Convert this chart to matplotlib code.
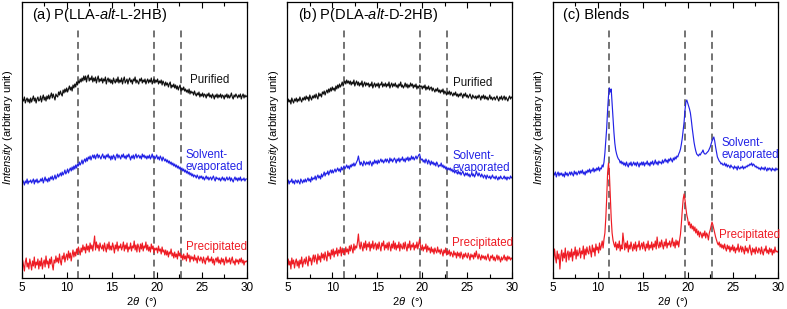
import numpy as np
import matplotlib
matplotlib.use("Agg")
import matplotlib.pyplot as plt
from matplotlib.ticker import MultipleLocator

plt.rcParams['font.family'] = ['Liberation Sans', 'DejaVu Sans']
plt.rcParams['mathtext.fontset'] = 'custom'
plt.rcParams['mathtext.it'] = 'Liberation Sans:italic'
plt.rcParams['mathtext.rm'] = 'Liberation Sans'

# 2theta grid (deg), step 0.1 (each row below = 1 degree)
two_theta = np.round(np.arange(5.0, 30.0001, 0.1), 1)

# ---- Panel (a) P(LLA-alt-L-2HB) ----
a_purified = [
    174, 179, 177, 181, 175, 178, 180, 176, 179, 175,
    180, 176, 179, 182, 177, 180, 175, 179, 181, 177,
    178, 182, 176, 180, 183, 178, 181, 177, 182, 179,
    183, 179, 182, 185, 180, 184, 181, 178, 184, 182,
    181, 186, 183, 187, 184, 182, 188, 185, 189, 186,
    190, 186, 189, 192, 188, 191, 187, 193, 190, 194,
    191, 196, 193, 197, 195, 199, 196, 200, 197, 202,
    198, 202, 196, 201, 203, 197, 200, 198, 202, 196,
    200, 197, 201, 195, 199, 202, 196, 199, 197, 200,
    195, 199, 197, 201, 194, 198, 200, 196, 199, 195,
    198, 194, 200, 197, 195, 199, 196, 201, 195, 198,
    196, 200, 194, 198, 201, 195, 197, 199, 194, 198,
    200, 196, 198, 194, 199, 197, 201, 195, 198, 196,
    194, 199, 197, 200, 195, 198, 196, 199, 194, 197,
    199, 195, 198, 196, 200, 194, 197, 199, 195, 198,
    196, 199, 194, 197, 195, 198, 193, 197, 195, 192,
    196, 193, 195, 191, 194, 196, 190, 193, 191, 194,
    190, 193, 189, 192, 188, 191, 193, 187, 190, 188,
    191, 187, 189, 186, 188, 185, 189, 184, 187, 185,
    186, 183, 187, 184, 182, 185, 183, 186, 181, 184,
    182, 185, 181, 184, 183, 180, 184, 182, 185, 181,
    183, 180, 184, 182, 179, 183, 181, 184, 180, 183,
    181, 184, 180, 183, 182, 179, 183, 181, 184, 180,
    183, 180, 182, 185, 181, 179, 183, 181, 184, 182,
    180, 183, 181, 184, 179, 182, 184, 180, 183, 181,
    182]
a_solvent = [
    94, 98, 96, 93, 97, 95, 99, 94, 97, 96,
    98, 95, 97, 99, 94, 98, 96, 99, 95, 97,
    96, 99, 97, 100, 95, 98, 101, 97, 99, 96,
    100, 97, 101, 99, 102, 98, 100, 103, 99, 101,
    104, 101, 103, 105, 102, 106, 103, 105, 108, 104,
    106, 109, 105, 108, 110, 107, 111, 108, 112, 109,
    113, 110, 114, 112, 116, 113, 115, 118, 114, 117,
    119, 116, 120, 117, 121, 119, 122, 118, 121, 123,
    120, 123, 119, 122, 124, 120, 123, 121, 119, 122,
    124, 120, 122, 119, 123, 121, 124, 120, 122, 118,
    122, 119, 123, 121, 118, 122, 124, 120, 123, 121,
    119, 123, 121, 124, 120, 122, 119, 123, 121, 124,
    121, 118, 122, 120, 123, 119, 122, 124, 120, 122,
    123, 120, 122, 119, 124, 121, 123, 120, 122, 119,
    122, 120, 123, 119, 121, 124, 120, 122, 119, 121,
    123, 119, 121, 118, 122, 120, 117, 121, 119, 117,
    119, 116, 118, 115, 117, 114, 116, 113, 115, 112,
    114, 111, 113, 110, 112, 109, 111, 108, 110, 107,
    109, 106, 108, 105, 107, 104, 106, 103, 105, 102,
    104, 101, 103, 102, 100, 103, 101, 99, 102, 100,
    102, 99, 101, 98, 100, 102, 99, 101, 98, 100,
    101, 98, 100, 102, 99, 97, 101, 99, 100, 98,
    100, 97, 99, 101, 98, 100, 97, 99, 101, 98,
    99, 101, 97, 100, 98, 96, 99, 101, 98, 100,
    97, 100, 98, 101, 97, 99, 98, 100, 97, 99,
    99]
a_precip = [
    10, 18, 13, 7, 16, 20, 11, 15, 9, 19,
    14, 8, 17, 12, 21, 10, 16, 13, 19, 9,
    17, 12, 20, 9, 15, 18, 11, 22, 14, 17,
    10, 19, 14, 21, 13, 8, 18, 15, 22, 16,
    20, 15, 24, 17, 13, 22, 19, 25, 16, 21,
    24, 18, 27, 20, 25, 17, 23, 28, 21, 26,
    22, 29, 24, 31, 27, 23, 30, 26, 33, 28,
    31, 25, 34, 28, 32, 26, 35, 29, 33, 27,
    34, 42, 28, 36, 30, 33, 27, 35, 31, 29,
    33, 27, 35, 30, 26, 34, 29, 36, 28, 32,
    28, 35, 31, 25, 33, 29, 36, 27, 32, 30,
    34, 28, 31, 36, 27, 33, 29, 35, 26, 31,
    29, 35, 27, 32, 30, 37, 28, 33, 26, 34,
    31, 26, 34, 29, 35, 27, 32, 30, 36, 28,
    33, 27, 31, 26, 34, 29, 32, 25, 30, 28,
    30, 25, 32, 27, 29, 24, 31, 26, 28, 23,
    28, 23, 27, 21, 26, 24, 29, 22, 25, 20,
    26, 21, 24, 19, 27, 22, 25, 20, 23, 18,
    24, 19, 22, 17, 25, 20, 23, 16, 22, 19,
    21, 17, 23, 18, 20, 15, 22, 19, 17, 21,
    19, 15, 21, 17, 14, 20, 18, 22, 16, 19,
    17, 21, 15, 19, 13, 18, 20, 16, 21, 15,
    18, 14, 20, 16, 19, 13, 17, 21, 15, 18,
    16, 20, 14, 18, 21, 15, 17, 13, 19, 16,
    18, 14, 19, 16, 20, 15, 18, 13, 17, 16,
    17]

# ---- Panel (b) P(DLA-alt-D-2HB) ----
b_purified = [
    175, 179, 176, 178, 174, 180, 177, 175, 179, 177,
    180, 176, 179, 177, 181, 178, 176, 180, 178, 181,
    178, 182, 179, 181, 177, 183, 180, 178, 182, 180,
    183, 180, 184, 181, 179, 185, 182, 184, 181, 186,
    184, 187, 183, 186, 188, 185, 189, 186, 190, 187,
    191, 188, 190, 187, 192, 189, 193, 190, 194, 191,
    193, 196, 192, 195, 197, 194, 198, 195, 197, 194,
    197, 193, 196, 194, 198, 192, 195, 197, 193, 196,
    192, 195, 193, 197, 191, 194, 196, 192, 195, 193,
    195, 191, 194, 192, 196, 190, 193, 195, 191, 194,
    192, 195, 190, 194, 193, 196, 191, 194, 192, 195,
    191, 194, 192, 196, 190, 193, 195, 191, 194, 192,
    195, 191, 193, 190, 194, 192, 196, 191, 193, 190,
    192, 195, 191, 194, 190, 193, 191, 195, 192, 194,
    190, 193, 191, 194, 189, 192, 190, 193, 191, 192,
    189, 192, 190, 193, 188, 191, 189, 192, 188, 190,
    191, 187, 190, 188, 186, 189, 187, 190, 186, 188,
    185, 188, 186, 189, 184, 187, 185, 183, 186, 184,
    187, 183, 186, 184, 182, 185, 183, 186, 182, 184,
    181, 184, 182, 185, 183, 180, 184, 182, 185, 181,
    183, 180, 182, 184, 181, 179, 183, 181, 180, 182,
    179, 182, 180, 183, 181, 178, 182, 180, 183, 179,
    182, 179, 181, 178, 180, 183, 179, 181, 178, 180,
    181, 178, 180, 182, 179, 177, 181, 179, 182, 178,
    180, 182, 178, 181, 179, 177, 180, 182, 179, 181,
    180]
b_solvent = [
    95, 98, 94, 97, 96, 99, 95, 97, 94, 98,
    97, 95, 98, 96, 94, 99, 97, 95, 98, 96,
    99, 96, 98, 100, 97, 99, 96, 101, 98, 100,
    99, 102, 98, 101, 103, 100, 102, 99, 104, 101,
    103, 106, 102, 105, 104, 107, 103, 106, 108, 105,
    108, 105, 107, 109, 106, 108, 110, 107, 109, 106,
    111, 108, 110, 112, 109, 111, 113, 110, 112, 109,
    113, 111, 114, 112, 115, 112, 114, 116, 118, 122,
    117, 113, 116, 114, 112, 117, 115, 113, 116, 114,
    116, 113, 117, 115, 112, 116, 114, 118, 115, 117,
    114, 118, 115, 117, 119, 116, 118, 115, 117, 119,
    116, 119, 117, 115, 120, 117, 119, 116, 118, 120,
    118, 115, 119, 117, 120, 116, 119, 118, 121, 117,
    119, 116, 120, 118, 121, 117, 120, 118, 122, 119,
    121, 118, 120, 122, 119, 121, 123, 124, 120, 118,
    119, 116, 118, 115, 119, 117, 114, 118, 116, 113,
    117, 114, 116, 113, 115, 112, 116, 114, 111, 113,
    112, 115, 111, 113, 110, 112, 109, 111, 108, 110,
    108, 110, 107, 109, 106, 108, 105, 107, 106, 104,
    107, 104, 106, 103, 105, 107, 104, 102, 105, 103,
    105, 102, 104, 101, 103, 105, 102, 104, 101, 103,
    107, 104, 102, 105, 103, 101, 104, 102, 100, 103,
    102, 99, 103, 101, 100, 102, 99, 101, 103, 100,
    101, 99, 102, 100, 98, 101, 99, 102, 100, 99,
    100, 102, 99, 101, 98, 101, 100, 99, 102, 100,
    101]
b_precip = [
    11, 19, 13, 17, 9, 20, 14, 18, 10, 16,
    19, 12, 17, 10, 18, 14, 21, 11, 16, 19,
    14, 21, 16, 12, 22, 17, 20, 13, 19, 23,
    16, 23, 19, 14, 24, 18, 22, 16, 25, 20,
    24, 18, 26, 21, 17, 27, 22, 25, 19, 28,
    23, 29, 21, 27, 24, 30, 22, 28, 25, 31,
    22, 30, 25, 28, 23, 31, 26, 29, 24, 32,
    27, 33, 29, 25, 34, 28, 32, 30, 36, 44,
    33, 29, 36, 31, 27, 35, 30, 37, 28, 34,
    31, 36, 27, 34, 30, 37, 29, 33, 35, 28,
    34, 29, 36, 31, 27, 35, 32, 37, 28, 33,
    30, 35, 28, 36, 32, 27, 34, 30, 37, 29,
    35, 28, 33, 30, 36, 27, 34, 31, 29, 35,
    29, 36, 31, 27, 34, 30, 37, 28, 33, 31,
    35, 28, 33, 30, 36, 29, 34, 39, 31, 28,
    33, 27, 31, 29, 34, 26, 32, 28, 30, 25,
    31, 26, 29, 24, 30, 27, 25, 31, 26, 28,
    24, 29, 26, 22, 28, 25, 30, 23, 27, 24,
    28, 22, 26, 24, 21, 27, 23, 25, 20, 26,
    22, 25, 20, 26, 23, 19, 24, 21, 25, 22,
    20, 25, 22, 18, 24, 21, 23, 19, 25, 21,
    27, 22, 19, 24, 21, 18, 23, 20, 22, 19,
    22, 18, 21, 24, 19, 17, 22, 20, 23, 18,
    21, 17, 20, 23, 18, 22, 19, 16, 21, 18,
    20, 23, 18, 21, 17, 22, 19, 21, 18, 20,
    19]

# ---- Panel (c) Blends ----
c_solvent = [
    102, 105, 103, 106, 101, 104, 106, 102, 105, 103,
    105, 102, 104, 101, 106, 103, 105, 102, 104, 106,
    103, 106, 104, 102, 107, 104, 106, 103, 105, 107,
    104, 107, 105, 108, 104, 106, 103, 107, 105, 108,
    106, 109, 105, 108, 107, 110, 106, 109, 107, 110,
    108, 111, 107, 110, 109, 113, 111, 116, 125, 137,
    150, 168, 182, 190, 186, 189, 175, 160, 146, 135,
    128, 124, 121, 119, 118, 115, 117, 114, 116, 113,
    115, 112, 116, 113, 111, 115, 113, 116, 112, 114,
    116, 113, 115, 112, 116, 114, 111, 115, 113, 116,
    113, 116, 112, 115, 114, 117, 113, 115, 112, 116,
    114, 117, 113, 115, 118, 114, 116, 113, 117, 115,
    116, 114, 118, 115, 117, 119, 116, 118, 115, 119,
    117, 120, 118, 116, 120, 118, 121, 119, 122, 121,
    124, 126, 129, 134, 140, 148, 156, 168, 176, 178,
    175, 172, 169, 165, 158, 150, 143, 136, 131, 127,
    124, 123, 122, 124, 123, 125, 126, 128, 125, 124,
    124, 125, 126, 127, 129, 131, 134, 137, 139, 141,
    137, 131, 126, 121, 119, 117, 116, 114, 115, 113,
    113, 115, 112, 114, 111, 113, 112, 110, 113, 111,
    111, 109, 112, 110, 111, 108, 112, 110, 109, 111,
    110, 112, 109, 111, 110, 112, 111, 113, 112, 114,
    113, 115, 112, 114, 113, 111, 112, 110, 111, 109,
    110, 108, 111, 109, 110, 108, 111, 109, 107, 110,
    108, 110, 109, 107, 110, 108, 109, 107, 110, 108,
    109]
c_precip = [
    26, 18, 29, 21, 15, 27, 19, 24, 9, 22,
    28, 17, 25, 20, 30, 16, 24, 27, 18, 26,
    21, 29, 17, 26, 23, 31, 19, 28, 22, 25,
    30, 20, 27, 24, 32, 19, 29, 23, 31, 26,
    24, 32, 27, 21, 33, 26, 30, 22, 34, 28,
    31, 25, 35, 28, 32, 37, 30, 39, 45, 60,
    80, 105, 115, 104, 82, 60, 45, 38, 34, 31,
    36, 28, 34, 30, 37, 27, 33, 29, 45, 36,
    28, 35, 30, 37, 26, 33, 29, 36, 31, 27,
    34, 29, 36, 27, 33, 31, 37, 28, 32, 35,
    29, 36, 31, 27, 34, 30, 37, 28, 33, 30,
    36, 28, 34, 31, 37, 29, 41, 33, 30, 36,
    31, 38, 33, 29, 36, 32, 39, 30, 35, 33,
    37, 31, 35, 40, 32, 36, 30, 38, 33, 37,
    31, 38, 44, 55, 68, 79, 84, 78, 70, 63,
    59, 53, 56, 50, 54, 49, 52, 47, 51, 45,
    49, 43, 47, 41, 46, 44, 40, 45, 42, 47,
    40, 45, 43, 38, 45, 48, 52, 56, 53, 49,
    45, 41, 38, 35, 33, 36, 31, 34, 30, 33,
    29, 34, 30, 27, 33, 29, 32, 26, 31, 28,
    33, 27, 31, 25, 30, 28, 34, 26, 29, 32,
    26, 31, 28, 24, 32, 27, 30, 25, 29, 33,
    27, 23, 30, 26, 29, 24, 31, 27, 25, 30,
    28, 24, 31, 26, 23, 29, 27, 32, 25, 28,
    24, 30, 26, 29, 23, 28, 25, 31, 26, 27,
    26]

panel_titles = ["(a) P(LLA-$\\mathit{alt}$-L-2HB)",
                "(b) P(DLA-$\\mathit{alt}$-D-2HB)",
                "(c) Blends"]
dash_positions = [11.25, 19.75, 22.75]
x_ticks = [5, 10, 15, 20, 25, 30]

BLACK = '#111111'
BLUE = '#2323e6'
RED = '#ee1c24'

W, H = 787, 309
fig = plt.figure(figsize=(W / 100, H / 100), dpi=100)

lefts = [21.7, 287.3, 552.7]
ax_w, ax_h = 225, 276
bottom_px = 31

panels = [
    [(a_purified, BLACK, "Purified", (23.7, 198)),
     (a_solvent, BLUE, "Solvent-\nevaporated", (23.2, 117)),
     (a_precip, RED, "Precipitated", (23.3, 31))],
    [(b_purified, BLACK, "Purified", (23.4, 195)),
     (b_solvent, BLUE, "Solvent-\nevaporated", (23.4, 116)),
     (b_precip, RED, "Precipitated", (23.3, 35))],
    [(c_solvent, BLUE, "Solvent-\nevaporated", (23.7, 129)),
     (c_precip, RED, "Precipitated", (23.5, 43))],
]

for i, left in enumerate(lefts):
    ax = fig.add_axes([left / W, bottom_px / H, ax_w / W, ax_h / H])
    for xv in dash_positions:
        ax.axvline(xv, ymin=0, ymax=0.905, color='#4d4d4d', lw=1.1,
                   dashes=(4.5, 3), zorder=1)
    for series, col, label, (tx, ty) in panels[i]:
        ax.plot(two_theta, series, color=col, lw=0.85, zorder=2)
        ax.text(tx, ty, label, color=col, fontsize=8.3, ha='left',
                va='center', linespacing=1.05, zorder=3)
    ax.set_xlim(5, 30)
    ax.set_ylim(0, 276)
    ax.set_xticks(x_ticks)
    ax.xaxis.set_minor_locator(MultipleLocator(2.5))
    ax.set_yticks([])
    ax.tick_params(axis='x', which='both', direction='in', top=True,
                   labelsize=8.5, pad=3)
    ax.tick_params(axis='x', which='major', length=4, width=0.8)
    ax.tick_params(axis='x', which='minor', length=3, width=0.8)
    for sp in ax.spines.values():
        sp.set_linewidth(0.9)
    ax.text(0.047, 0.953, panel_titles[i], transform=ax.transAxes,
            fontsize=10.5, ha='left', va='center')
    ax.set_xlabel("$\\mathit{2\\theta}$  (°)", fontsize=8)
    ax.xaxis.set_label_coords(0.535, -0.062)
    ax.set_ylabel("$\\mathit{Intensity}$ (arbitrary unit)", fontsize=8)
    ax.yaxis.set_label_coords(-0.03, 0.547)

fig.savefig("out.png", dpi=100)
